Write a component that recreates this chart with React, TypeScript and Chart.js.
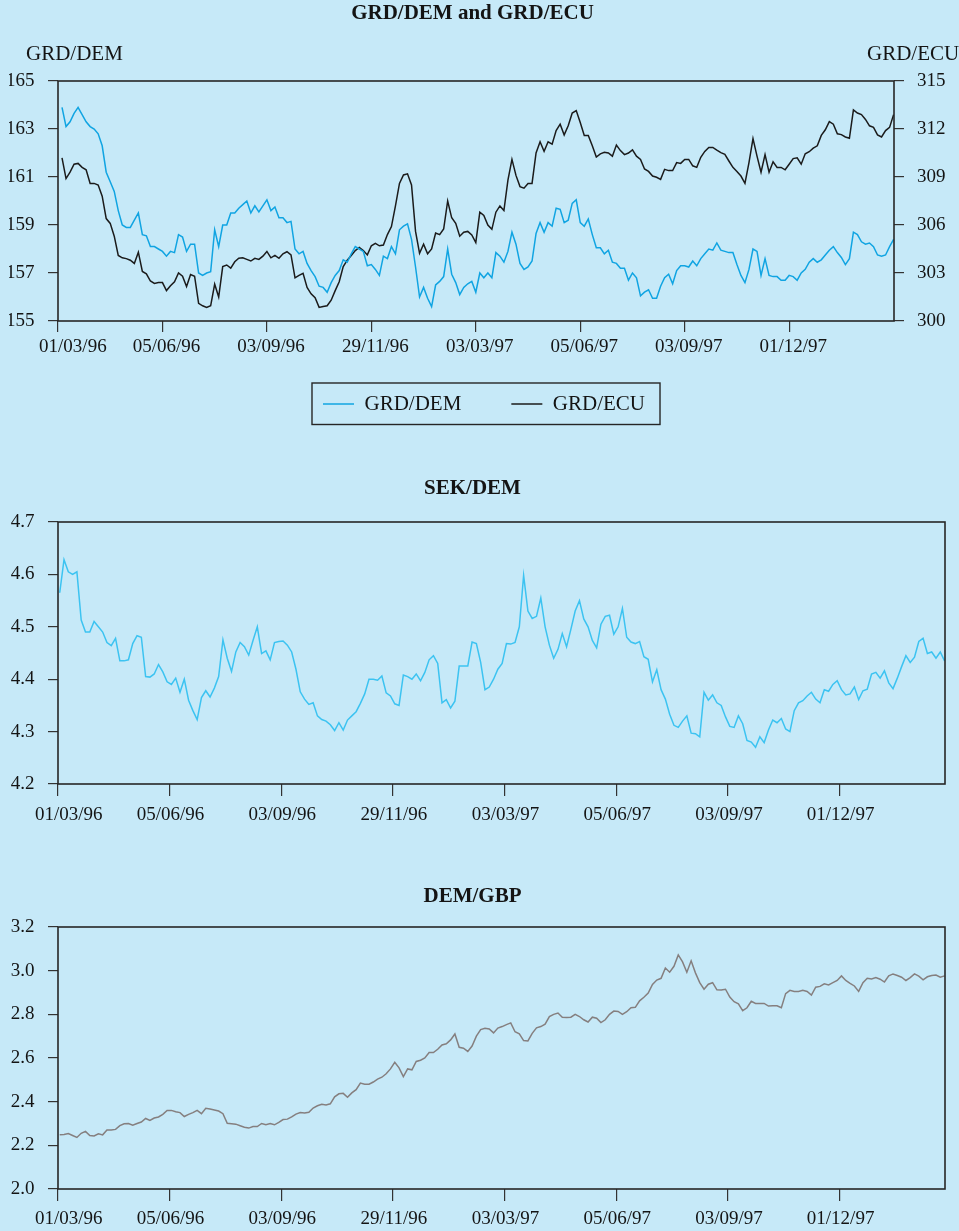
import React, { useEffect, useRef } from "react";
import { Chart, registerables } from "chart.js";

Chart.register(...registerables);

// ---------------- data ----------------
const TICK_LABELS = ["01/03/96", "05/06/96", "03/09/96", "29/11/96", "03/03/97", "05/06/97", "03/09/97", "01/12/97"];
const POINTS_PER_TICK = 26; // samples between two date ticks

const GRD_DEM = [
  163.9, 163.1, 163.3, 163.65, 163.9, 163.6, 163.3, 163.1, 163.0, 162.8,
  162.3, 161.2, 160.8, 160.4, 159.6, 159.0, 158.9, 158.9, 159.2, 159.5,
  158.6, 158.55, 158.1, 158.1, 158.0, 157.9, 157.7, 157.9, 157.85, 158.6,
  158.5, 157.9, 158.2, 158.2, 157.0, 156.9, 157.0, 157.05, 158.8, 158.1,
  159.0, 159.0, 159.5, 159.5, 159.7, 159.85, 160.0, 159.5, 159.8, 159.55,
  159.8, 160.05, 159.6, 159.75, 159.3, 159.3, 159.1, 159.15, 158.0, 157.8,
  157.9, 157.4, 157.1, 156.85, 156.45, 156.4, 156.2, 156.6, 156.9, 157.1,
  157.55, 157.45, 157.8, 158.1, 158.0, 157.9, 157.3, 157.35, 157.15, 156.9,
  157.7, 157.6, 158.1, 157.8, 158.8, 158.95, 159.05, 158.4, 157.25, 156.0,
  156.4, 155.95, 155.6, 156.5, 156.65, 156.85, 158.0, 156.95, 156.6, 156.1,
  156.4, 156.55, 156.65, 156.2, 157.0, 156.8, 157.0, 156.8, 157.85, 157.7,
  157.45, 157.9, 158.7, 158.2, 157.4, 157.15, 157.25, 157.5, 158.65, 159.1,
  158.7, 159.1, 158.95, 159.7, 159.65, 159.1, 159.2, 159.9, 160.05, 159.1,
  158.95, 159.25, 158.6, 158.05, 158.05, 157.8, 157.95, 157.45, 157.4, 157.2,
  157.2, 156.7, 157.0, 156.8, 156.05, 156.2, 156.3, 155.95, 155.95, 156.45,
  156.8, 156.95, 156.55, 157.1, 157.3, 157.3, 157.25, 157.5, 157.3, 157.6,
  157.8, 158.0, 157.95, 158.25, 157.95, 157.9, 157.85, 157.85, 157.35, 156.9,
  156.6, 157.15, 158.0, 157.9, 156.9, 157.6, 156.9, 156.85, 156.85, 156.7,
  156.7, 156.9, 156.85, 156.7, 157.0, 157.15, 157.45, 157.6, 157.45, 157.55,
  157.75, 157.95, 158.1, 157.85, 157.65, 157.35, 157.6, 158.7, 158.6, 158.3,
  158.2, 158.25, 158.1, 157.75, 157.7, 157.75, 158.1, 158.4,
];

const GRD_ECU = [
  310.2, 308.9, 309.3, 309.8, 309.85, 309.6, 309.45, 308.6, 308.6, 308.5,
  307.8, 306.4, 306.1, 305.3, 304.1, 303.95, 303.9, 303.8, 303.6, 304.3,
  303.1, 302.95, 302.5, 302.35, 302.4, 302.4, 301.9, 302.2, 302.45, 303.0,
  302.8, 302.15, 302.9, 302.8, 301.1, 300.95, 300.85, 300.95, 302.3, 301.5,
  303.4, 303.5, 303.3, 303.7, 303.92, 303.95, 303.85, 303.75, 303.92, 303.85,
  304.05, 304.35, 303.95, 304.1, 303.92, 304.2, 304.33, 304.13, 302.7, 302.85,
  302.98, 302.1, 301.7, 301.45, 300.85, 300.9, 300.95, 301.3, 301.9, 302.45,
  303.4, 303.8, 304.1, 304.4, 304.6, 304.4, 304.13, 304.7, 304.85, 304.7,
  304.75, 305.4, 305.9, 307.2, 308.6, 309.13, 309.2, 308.5, 305.6, 304.23,
  304.8, 304.2, 304.5, 305.5, 305.4, 305.75, 307.5, 306.45, 306.1, 305.3,
  305.55, 305.6, 305.38, 304.9, 306.8, 306.6, 306.0, 305.73, 306.8, 307.19,
  306.9, 308.8, 310.1, 309.1, 308.4, 308.3, 308.6, 308.6, 310.5, 311.2,
  310.6, 311.2, 311.05, 311.9, 312.3, 311.63, 312.2, 313.0, 313.15, 312.4,
  311.6, 311.6, 310.95, 310.25, 310.45, 310.55, 310.5, 310.3, 311.0, 310.65,
  310.4, 310.5, 310.69, 310.3, 310.1, 309.5, 309.35, 309.06, 308.98, 308.85,
  309.48, 309.4, 309.4, 309.9, 309.85, 310.1, 310.1, 309.7, 309.6, 310.23,
  310.6, 310.85, 310.85, 310.68, 310.52, 310.42, 310.0, 309.6, 309.35, 309.06,
  308.6, 309.9, 311.4, 310.3, 309.3, 310.4, 309.3, 309.95, 309.6, 309.6,
  309.45, 309.8, 310.15, 310.2, 309.8, 310.45, 310.58, 310.8, 310.95, 311.6,
  311.95, 312.46, 312.3, 311.7, 311.65, 311.5, 311.42, 313.2, 313.0, 312.9,
  312.6, 312.2, 312.1, 311.63, 311.5, 311.9, 312.1, 312.9,
];

const SEK_DEM = [
  4.565, 4.628, 4.605, 4.6, 4.605, 4.513, 4.49, 4.49, 4.51, 4.5,
  4.49, 4.47, 4.464, 4.478, 4.435, 4.435, 4.437, 4.468, 4.483, 4.48,
  4.405, 4.404, 4.41, 4.428, 4.414, 4.395, 4.39, 4.402, 4.375, 4.4,
  4.36, 4.34, 4.323, 4.365, 4.378, 4.366, 4.383, 4.405, 4.475, 4.44,
  4.415, 4.452, 4.47, 4.462, 4.446, 4.474, 4.5, 4.449, 4.454, 4.437,
  4.47, 4.472, 4.473, 4.465, 4.452, 4.419, 4.376, 4.362, 4.352, 4.355,
  4.33, 4.323, 4.32, 4.313, 4.302, 4.317, 4.303, 4.322, 4.33, 4.338,
  4.354, 4.372, 4.4, 4.4, 4.398, 4.406, 4.374, 4.368, 4.353, 4.35,
  4.408, 4.405, 4.4, 4.41, 4.397, 4.413, 4.437, 4.445, 4.43, 4.355,
  4.361, 4.345, 4.358, 4.425, 4.425, 4.425, 4.471, 4.468, 4.432, 4.38,
  4.385, 4.4, 4.419, 4.43, 4.468, 4.467, 4.47, 4.5, 4.598, 4.53,
  4.516, 4.52, 4.555, 4.5, 4.465, 4.44, 4.457, 4.487, 4.462, 4.495,
  4.53, 4.55, 4.515, 4.5, 4.474, 4.46, 4.505, 4.52, 4.522, 4.486,
  4.5, 4.535, 4.48, 4.471, 4.468, 4.472, 4.443, 4.438, 4.395, 4.418,
  4.38, 4.362, 4.333, 4.312, 4.308, 4.32, 4.33, 4.297, 4.296, 4.29,
  4.375, 4.36, 4.37, 4.355, 4.35, 4.328, 4.31, 4.308, 4.33, 4.315,
  4.283, 4.28, 4.27, 4.29, 4.279, 4.303, 4.322, 4.317, 4.325, 4.305,
  4.3, 4.34, 4.355, 4.359, 4.368, 4.375, 4.362, 4.355, 4.38, 4.377,
  4.39, 4.397, 4.38, 4.37, 4.372, 4.385, 4.361, 4.378, 4.381, 4.41,
  4.413, 4.402, 4.416, 4.393, 4.382, 4.402, 4.424, 4.445, 4.432, 4.442,
  4.472, 4.478, 4.449, 4.452, 4.44, 4.452, 4.435,
];

const DEM_GBP = [
  2.248, 2.25, 2.254, 2.245, 2.236, 2.255, 2.264, 2.245, 2.243, 2.253,
  2.248, 2.27, 2.27, 2.273, 2.29, 2.299, 2.3, 2.292, 2.3, 2.307,
  2.323, 2.314, 2.325, 2.33, 2.342, 2.36, 2.36, 2.354, 2.35, 2.332,
  2.342, 2.35, 2.36, 2.345, 2.37, 2.366, 2.362, 2.357, 2.345, 2.301,
  2.299, 2.297, 2.29, 2.283, 2.279, 2.286, 2.286, 2.3, 2.294, 2.3,
  2.294, 2.305, 2.318, 2.32, 2.33, 2.343, 2.35, 2.348, 2.351, 2.371,
  2.381, 2.388, 2.385, 2.39, 2.422, 2.436, 2.438, 2.42, 2.44, 2.455,
  2.485, 2.48, 2.48, 2.49, 2.503, 2.512, 2.528, 2.55, 2.58, 2.555,
  2.515, 2.55, 2.546, 2.584, 2.59, 2.6, 2.625, 2.625, 2.64, 2.66,
  2.665, 2.683, 2.71, 2.649, 2.645, 2.63, 2.655, 2.7, 2.73, 2.736,
  2.733, 2.715, 2.737, 2.744, 2.753, 2.761, 2.72, 2.711, 2.68, 2.678,
  2.713, 2.738, 2.744, 2.755, 2.79, 2.8, 2.806, 2.787, 2.786, 2.787,
  2.8, 2.79, 2.775, 2.765, 2.787, 2.782, 2.762, 2.775, 2.8, 2.815,
  2.813, 2.8, 2.812, 2.83, 2.832, 2.862, 2.878, 2.897, 2.937, 2.957,
  2.965, 3.012, 2.993, 3.02, 3.072, 3.04, 2.993, 3.045, 2.99, 2.945,
  2.915, 2.938, 2.945, 2.912, 2.911, 2.915, 2.879, 2.858, 2.848, 2.817,
  2.83, 2.86, 2.85, 2.85, 2.85, 2.838, 2.839, 2.839, 2.83, 2.895,
  2.91, 2.905, 2.905, 2.91, 2.905, 2.888, 2.924, 2.928, 2.94, 2.935,
  2.945, 2.955, 2.976, 2.955, 2.942, 2.93, 2.905, 2.945, 2.965, 2.962,
  2.968, 2.961, 2.948, 2.976, 2.985, 2.978, 2.97, 2.955, 2.968, 2.985,
  2.975, 2.958, 2.972, 2.978, 2.98, 2.97, 2.976,
];

// ---------------- styles ----------------
const BG = "#c6e9f8";
const FONT = '"Liberation Serif", "Times New Roman", Times, serif';
const TEXT = "#141414";
const FRAME = "#262626";
const TICK_COLOR = "#333333";
const BLUE_GRD = "#10a4e2";
const BLUE_SEK = "#3cc3f1";
const BLACK = "#1b1b1b";
const GREY = "#857f7f";

const decor = {
  id: "decor",
  afterLayout(chart: any, _args: any, opts: any) {
    if (opts.legendShift && chart.legend) {
      chart.legend.top += opts.legendShift;
      chart.legend.bottom += opts.legendShift;
    }
  },
  afterDraw(chart: any, _args: any, opts: any) {
    const { ctx, chartArea: a } = chart;
    ctx.save();
    ctx.strokeStyle = FRAME;
    ctx.lineWidth = 1.6;
    ctx.strokeRect(a.left, a.top, a.right - a.left, a.bottom - a.top);
    ctx.fillStyle = TEXT;
    ctx.textBaseline = "middle";
    (opts.texts || []).forEach((t: any) => {
      ctx.font = t.font;
      ctx.textAlign = t.align;
      ctx.fillText(t.text, t.x, t.y);
    });
    if (opts.legendBox && chart.legend && chart.legend.legendHitBoxes.length) {
      const hb = chart.legend.legendHitBoxes;
      const first = hb[0];
      const last = hb[hb.length - 1];
      const cy = first.top + first.height / 2;
      ctx.strokeStyle = FRAME;
      ctx.lineWidth = 1.4;
      const l = first.left - 11;
      const r = last.left + last.width + 15;
      ctx.strokeRect(l, cy - 21, r - l, 41.5);
    }
    ctx.restore();
  },
};

function xAxes(max: number, tickLen: number, labelAxisHeight: number, labelPad: number, firstNudge: number, restNudge: number) {
  return {
    x: {
      type: "linear",
      position: "bottom",
      weight: 1,
      min: 0,
      max,
      afterBuildTicks: (s: any) => {
        s.ticks = TICK_LABELS.map((_, k) => ({ value: k * POINTS_PER_TICK }));
      },
      afterFit: (s: any) => {
        s.height = tickLen;
      },
      ticks: { display: false },
      grid: { display: true, drawOnChartArea: false, drawTicks: true, tickLength: tickLen, color: TICK_COLOR, lineWidth: 1.2 },
      border: { display: false },
    },
    xl: {
      type: "linear",
      position: "bottom",
      weight: 2,
      min: 0,
      max,
      afterBuildTicks: (s: any) => {
        s.ticks = TICK_LABELS.map((_, k) => ({ value: k * POINTS_PER_TICK + (k === 0 ? firstNudge : restNudge) }));
      },
      afterFit: (s: any) => {
        s.height = labelAxisHeight;
      },
      ticks: {
        autoSkip: false,
        maxRotation: 0,
        minRotation: 0,
        padding: labelPad,
        color: TEXT,
        font: { family: FONT, size: 19 },
        callback: (_v: any, i: number) => TICK_LABELS[i],
      },
      grid: { display: false, drawTicks: false },
      border: { display: false },
    },
  };
}

function yAxis(position: string, min: number, max: number, step: number, width: number, pad: number, digits: number) {
  return {
    type: "linear",
    position,
    min,
    max,
    afterFit: (s: any) => {
      s.width = width;
    },
    ticks: {
      stepSize: step,
      padding: pad,
      color: TEXT,
      font: { family: FONT, size: 19 },
      callback: (v: any) => Number(v).toFixed(digits),
    },
    grid: { display: true, drawOnChartArea: false, drawTicks: true, tickLength: 10, color: TICK_COLOR, lineWidth: 1.2 },
    border: { display: false },
  };
}

function series(values: number[], start: number) {
  return values.map((v, k) => ({ x: k + start, y: v }));
}

const lineStyle = (color: string) => ({
  borderColor: color,
  backgroundColor: color,
  borderWidth: 1.5,
  pointBorderWidth: 1.5,
  pointRadius: 0,
  pointHoverRadius: 0,
  tension: 0,
  fill: false,
});

function config1(): any {
  return {
    type: "line",
    data: {
      datasets: [
        { label: "GRD/DEM", data: series(GRD_DEM, 1), yAxisID: "y", xAxisID: "x", ...lineStyle(BLUE_GRD) },
        { label: "GRD/ECU", data: series(GRD_ECU, 1), yAxisID: "y1", xAxisID: "x", ...lineStyle(BLACK) },
      ],
    },
    options: {
      responsive: false,
      animation: false,
      events: [],
      layout: { padding: { left: 9, right: 0, top: 81, bottom: 7 } },
      scales: {
        ...xAxes(208.1, 11, 30, 4.1, 3.7, 1.0),
        y: yAxis("left", 155, 165, 2, 49, 13.5, 0),
        y1: yAxis("right", 300, 315, 3, 65, 13, 0),
      },
      plugins: {
        tooltip: { enabled: false },
        legend: {
          display: true,
          position: "bottom",
          labels: {
            usePointStyle: true,
            pointStyle: "line",
            pointStyleWidth: 31,
            boxHeight: 21,
            padding: 50,
            color: TEXT,
            font: { family: FONT, size: 21 },
          },
        },
        decor: {
          legendBox: true,
          legendShift: -18.5,
          texts: [
            { text: "GRD/DEM and GRD/ECU", x: 472.5, y: 13.5, align: "center", font: `bold 21px ${FONT}` },
            { text: "GRD/DEM", x: 26, y: 54.5, align: "left", font: `21px ${FONT}` },
            { text: "GRD/ECU", x: 867, y: 54.5, align: "left", font: `21px ${FONT}` },
          ],
        },
      },
    },
    plugins: [decor],
  };
}

function configSingle(title: string, titleY: number, values: number[], color: string, yMin: number, yMax: number, yStep: number, padTop: number, labelAxisHeight: number, labelPad: number): any {
  return {
    type: "line",
    data: {
      datasets: [{ label: title, data: series(values, 0.4), yAxisID: "y", xAxisID: "x", ...lineStyle(color) }],
    },
    options: {
      responsive: false,
      animation: false,
      events: [],
      layout: { padding: { left: 9, right: 14, top: padTop, bottom: 0 } },
      scales: {
        ...xAxes(206.5, 12, labelAxisHeight, labelPad, 2.5, 0.2),
        y: yAxis("left", yMin, yMax, yStep, 49, 13.5, 1),
      },
      plugins: {
        tooltip: { enabled: false },
        legend: { display: false },
        decor: {
          texts: [{ text: title, x: 472.5, y: titleY, align: "center", font: `bold 21px ${FONT}` }],
        },
      },
    },
    plugins: [decor],
  };
}

function ChartCanvas({ top, height, build }: { top: number; height: number; build: () => any }) {
  const ref = useRef<HTMLCanvasElement>(null);
  useEffect(() => {
    if (!ref.current) return;
    const chart = new Chart(ref.current, build());
    return () => chart.destroy();
  }, []);
  return (
    <canvas
      ref={ref}
      width={959}
      height={height}
      style={{ position: "absolute", left: 0, top, width: 959, height, display: "block" }}
    />
  );
}

export default function App() {
  return (
    <div style={{ position: "absolute", left: 0, top: 0, width: 959, height: 1231, background: BG, overflow: "hidden" }}>
      <ChartCanvas top={0} height={450} build={config1} />
      <ChartCanvas
        top={460}
        height={380}
        build={() => configSingle("SEK/DEM", 29, SEK_DEM, BLUE_SEK, 4.2, 4.7, 0.1, 62, 44, 7.6)}
      />
      <ChartCanvas
        top={860}
        height={371}
        build={() => configSingle("DEM/GBP", 37, DEM_GBP, GREY, 2.0, 3.2, 0.2, 67, 30, 6.6)}
      />
    </div>
  );
}
